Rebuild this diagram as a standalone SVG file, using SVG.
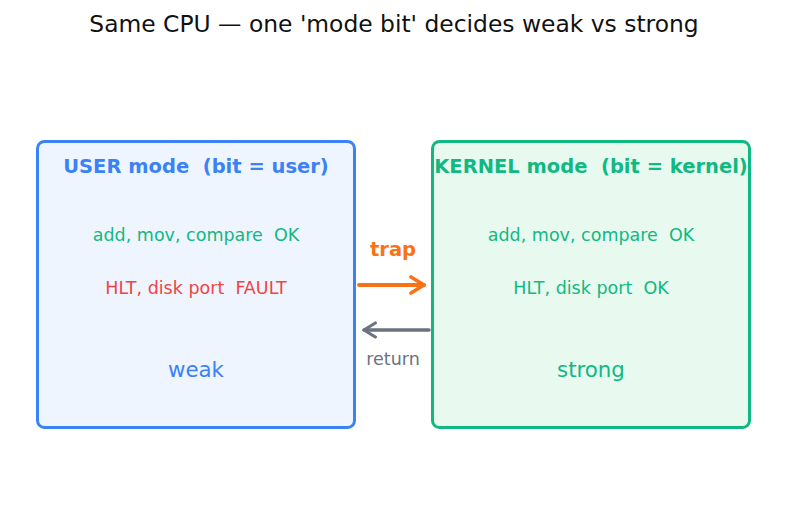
<svg xmlns="http://www.w3.org/2000/svg" width="787" height="510" viewBox="0 0 787 510">
<style>
text{font-family:"DejaVu Sans","Liberation Sans",sans-serif;text-anchor:middle;white-space:pre}
.title{font-size:23.4px;fill:#111}
.hdr{font-size:19.5px;font-weight:bold}
.row{font-size:17.5px}
.big{font-size:21.3px}
.ok{fill:#10b981}
.bad{fill:#ef4444}
.blue{fill:#3b82f6}
</style>
<defs>
<marker id="ho" viewBox="0 0 10 10" refX="8" refY="5" markerWidth="5" markerHeight="5" orient="auto" markerUnits="strokeWidth"><path d="M1.5,1 L8,5 L1.5,9" fill="none" stroke="#f97316" stroke-width="1.8" stroke-linecap="round" stroke-linejoin="round"/></marker>
<marker id="hg" viewBox="0 0 10 10" refX="8" refY="5" markerWidth="5" markerHeight="5" orient="auto" markerUnits="strokeWidth"><path d="M1.5,1 L8,5 L1.5,9" fill="none" stroke="#6b7280" stroke-width="1.8" stroke-linecap="round" stroke-linejoin="round"/></marker>
</defs>
<rect width="787" height="510" fill="#fff"/>
<text class="title" x="394" y="32">Same CPU — one 'mode bit' decides weak vs strong</text>
<g id="user">
<rect x="37.5" y="141.5" width="317" height="286" rx="7" fill="#eff5ff" stroke="#3b82f6" stroke-width="3"/>
<text class="hdr blue" x="196" y="172.5">USER mode  (bit = user)</text>
<text class="row ok" x="196" y="240.5">add, mov, compare  OK</text>
<text class="row bad" x="196" y="293.5">HLT, disk port  FAULT</text>
<text class="big blue" x="196" y="376.5">weak</text>
</g>
<g id="kernel">
<rect x="432.5" y="141.5" width="317" height="286" rx="7" fill="#e8faf0" stroke="#10b981" stroke-width="3"/>
<text class="hdr ok" x="591" y="172.5">KERNEL mode  (bit = kernel)</text>
<text class="row ok" x="591" y="240.5">add, mov, compare  OK</text>
<text class="row ok" x="591" y="293.5">HLT, disk port  OK</text>
<text class="big ok" x="591" y="376.5">strong</text>
</g>
<g id="connectors">
<line x1="359" y1="285" x2="424" y2="285" stroke="#f97316" stroke-width="4" stroke-linecap="round" marker-end="url(#ho)"/>
<text class="hdr" x="393" y="255.5" fill="#f97316">trap</text>
<line x1="429" y1="330" x2="364" y2="330" stroke="#6b7280" stroke-width="3.5" stroke-linecap="round" marker-end="url(#hg)"/>
<text class="row" x="393" y="364.5" fill="#6b7280">return</text>
</g>
</svg>
